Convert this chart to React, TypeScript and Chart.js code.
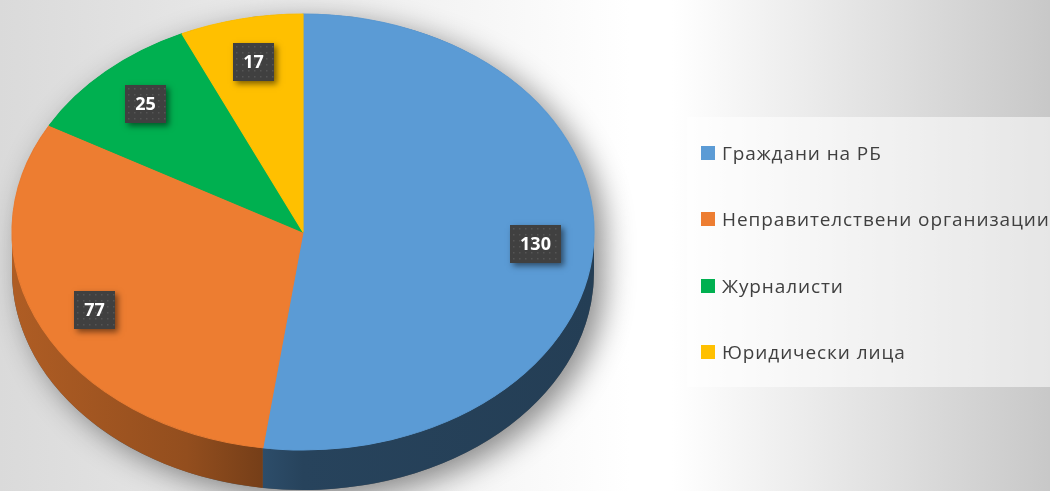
import React, { useEffect, useRef } from "react";
import { Chart, registerables } from "chart.js";

Chart.register(...registerables);

const categories = [
  "Граждани на РБ",
  "Неправителствени организации",
  "Журналисти",
  "Юридически лица",
];
const values = [130, 77, 25, 17];
const colors = ["#5B9BD5", "#ED7D31", "#00B050", "#FFC000"];

const W = 1050;
const H = 491;
// projected ellipse of the pie top
const CX = 303;
const CY = 232;
const RX = 291;
const RY = 218;
const DEPTH = 40;
const LABEL_FRACTION = 0.8;

function shade(hex: string, f: number): string {
  const n = parseInt(hex.slice(1), 16);
  const r = Math.round(((n >> 16) & 255) * f);
  const g = Math.round(((n >> 8) & 255) * f);
  const b = Math.round((n & 255) * f);
  return `rgb(${r},${g},${b})`;
}

const pie3d = {
  id: "pie3d",
  beforeDraw(chart: any) {
    const ctx = chart.ctx as CanvasRenderingContext2D;
    const g = ctx.createLinearGradient(0, 0, W, 0);
    g.addColorStop(0, "#dadada");
    g.addColorStop(0.6, "#ffffff");
    g.addColorStop(0.64, "#ffffff");
    g.addColorStop(1, "#c8c8c8");
    ctx.save();
    ctx.fillStyle = g;
    ctx.fillRect(0, 0, W, H);
    ctx.restore();
  },
  beforeDatasetsDraw(chart: any) {
    const ctx = chart.ctx as CanvasRenderingContext2D;
    const meta = chart.getDatasetMeta(0);
    const arcs = meta.data as any[];
    if (!arcs.length) return;
    const x0 = arcs[0].x;
    const y0 = arcs[0].y;
    const r0 = arcs[0].outerRadius;

    // drop shadow of the whole solid
    ctx.save();
    ctx.shadowColor = "rgba(0,0,0,0.45)";
    ctx.shadowBlur = 30;
    ctx.shadowOffsetX = 10;
    ctx.shadowOffsetY = 8;
    ctx.fillStyle = "#5a5a5a";
    ctx.beginPath();
    ctx.ellipse(CX, CY, RX, RY, 0, Math.PI, 2 * Math.PI);
    ctx.lineTo(CX + RX, CY + DEPTH);
    ctx.ellipse(CX, CY + DEPTH, RX, RY, 0, 0, Math.PI);
    ctx.closePath();
    ctx.fill();
    ctx.restore();

    // side walls of the front half
    arcs.forEach((arc: any, i: number) => {
      const a = Math.max(arc.startAngle, 0);
      const b = Math.min(arc.endAngle, Math.PI);
      if (a >= b) return;
      const g = ctx.createLinearGradient(CX - RX, 0, CX + RX, 0);
      g.addColorStop(0, shade(colors[i], 0.74));
      g.addColorStop(0.3, shade(colors[i], 0.62));
      g.addColorStop(0.5, shade(colors[i], 0.43));
      g.addColorStop(1, shade(colors[i], 0.4));
      ctx.save();
      ctx.fillStyle = g;
      ctx.beginPath();
      ctx.ellipse(CX, CY, RX, RY, 0, a, b);
      ctx.lineTo(CX + RX * Math.cos(b), CY + DEPTH + RY * Math.sin(b));
      ctx.ellipse(CX, CY + DEPTH, RX, RY, 0, b, a, true);
      ctx.closePath();
      ctx.fill();
      ctx.restore();
    });

    // map the library's circle onto the tilted ellipse
    ctx.save();
    ctx.translate(CX, CY);
    ctx.scale(RX / r0, RY / r0);
    ctx.translate(-x0, -y0);
  },
  afterDatasetsDraw(chart: any) {
    const ctx = chart.ctx as CanvasRenderingContext2D;
    ctx.restore();
    const meta = chart.getDatasetMeta(0);
    const arcs = meta.data as any[];
    arcs.forEach((arc: any, i: number) => {
      const m = (arc.startAngle + arc.endAngle) / 2;
      const X = CX + RX * LABEL_FRACTION * Math.cos(m);
      const Y = CY + RY * LABEL_FRACTION * Math.sin(m);
      const text = String(values[i]);
      ctx.save();
      ctx.font = "bold 18px 'Open Sans'";
      const tw = ctx.measureText(text).width;
      const bw = Math.round(tw + 20);
      const bh = 38;
      const bx = Math.round(X - bw / 2);
      const by = Math.round(Y - bh / 2);
      ctx.shadowColor = "rgba(0,0,0,0.5)";
      ctx.shadowBlur = 6;
      ctx.shadowOffsetX = 3;
      ctx.shadowOffsetY = 3;
      ctx.fillStyle = "#404040";
      ctx.fillRect(bx, by, bw, bh);
      ctx.shadowColor = "transparent";
      ctx.fillStyle = "#555555";
      for (let yy = by + 3; yy < by + bh - 1; yy += 6) {
        for (let xx = bx + 3; xx < bx + bw - 1; xx += 6) {
          ctx.fillRect(xx, yy, 1.5, 1.5);
        }
      }
      ctx.fillStyle = "#ffffff";
      ctx.textAlign = "center";
      ctx.textBaseline = "middle";
      ctx.fillText(text, bx + bw / 2, by + bh / 2 + 1);
      ctx.restore();
    });
  },
};

const legendRows = [36, 102, 169, 235];

export default function App() {
  const ref = useRef<HTMLCanvasElement>(null);
  useEffect(() => {
    const chart = new Chart(ref.current as HTMLCanvasElement, {
      type: "pie",
      data: {
        labels: categories,
        datasets: [
          {
            data: values,
            backgroundColor: colors,
            borderColor: colors,
            borderWidth: 1,
          },
        ],
      },
      options: {
        animation: false,
        responsive: false,
        devicePixelRatio: 1,
        layout: { padding: 0 },
        plugins: { legend: { display: false }, tooltip: { enabled: false } },
      },
      plugins: [pie3d as any],
    });
    return () => chart.destroy();
  }, []);

  return (
    <div
      style={{
        position: "fixed",
        left: 0,
        top: 0,
        width: W,
        height: H,
        overflow: "hidden",
      }}
    >
      <canvas ref={ref} width={W} height={H} style={{ display: "block" }} />
      <div
        style={{
          position: "absolute",
          left: 687,
          top: 117,
          width: 363,
          height: 270,
          background: "rgba(255,255,255,0.55)",
        }}
      >
        {categories.map((c, i) => (
          <div
            key={c}
            style={{
              position: "absolute",
              left: 14,
              top: legendRows[i] - 11,
              height: 22,
              display: "flex",
              alignItems: "center",
              whiteSpace: "nowrap",
              fontFamily: "'Open Sans', sans-serif",
              fontSize: 19,
              letterSpacing: 0.9,
              color: "#404040",
            }}
          >
            <span
              style={{
                display: "inline-block",
                width: 14,
                height: 14,
                background: colors[i],
                marginRight: 7,
              }}
            />
            <span>{c}</span>
          </div>
        ))}
      </div>
    </div>
  );
}
